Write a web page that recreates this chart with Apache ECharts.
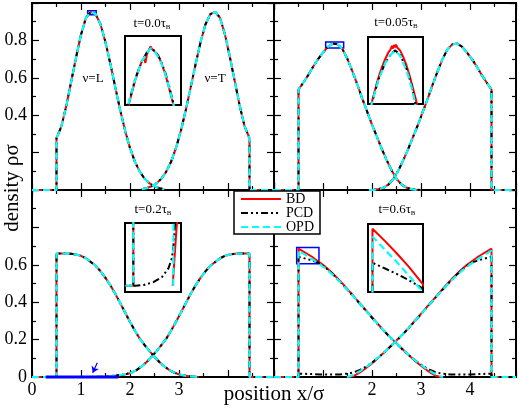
<!DOCTYPE html>
<html><head><meta charset="utf-8">
<script src="https://cdn.jsdelivr.net/npm/echarts/dist/echarts.min.js"></script>
<style>html,body{margin:0;padding:0;background:#fff}#c{width:519px;height:409px}</style>
</head><body><div id="c"></div>
<script>
// ---------------- data ----------------
const xTickLabelsBL = [0, 1, 2, 3];
const xTickLabelsBR = [2, 3, 4];
const yTickLabelsTop = [0.4, 0.6, 0.8];
const yTickLabelsBot = [0, 0.2, 0.4, 0.6];
const panelTimes = ['0.0', '0.05', '0.2', '0.6'];
const methods = ['BD', 'PCD', 'OPD'];

// t = 0.0
const xL_t0 = [0, 0.5, 0.5, 0.6, 0.7, 0.8, 0.9, 1.0, 1.1, 1.2, 1.3, 1.4, 1.5, 1.6, 1.7, 1.8, 1.9, 2.0, 2.1, 2.2, 2.3, 2.4, 2.5, 2.6, 2.7];
const rhoL_t0 = [0, 0, 0.277, 0.34, 0.45, 0.58, 0.71, 0.83, 0.92, 0.953, 0.94, 0.885, 0.79, 0.674, 0.55, 0.428, 0.318, 0.225, 0.152, 0.098, 0.06, 0.035, 0.02, 0.01, 0.004];
const xT_t0 = [2.24, 2.34, 2.44, 2.54, 2.64, 2.74, 2.84, 2.94, 3.04, 3.14, 3.24, 3.34, 3.44, 3.54, 3.64, 3.74, 3.84, 3.94, 4.04, 4.14, 4.24, 4.34, 4.44, 4.44, 4.94];
const rhoT_t0 = [0.004, 0.01, 0.02, 0.035, 0.06, 0.098, 0.152, 0.225, 0.318, 0.428, 0.55, 0.674, 0.79, 0.885, 0.94, 0.953, 0.92, 0.83, 0.71, 0.58, 0.45, 0.34, 0.277, 0, 0];

// t = 0.05
const xL_t005 = [0, 0.5, 0.5, 0.6, 0.7, 0.8, 0.9, 1.0, 1.1, 1.2, 1.3, 1.4, 1.5, 1.6, 1.7, 1.8, 1.9, 2.0, 2.1, 2.2, 2.3, 2.4, 2.5, 2.6, 2.7, 2.8, 2.9, 3.0];
const rhoL_t005 = [0, 0, 0.537, 0.575, 0.615, 0.66, 0.70, 0.735, 0.766, 0.783, 0.779, 0.752, 0.70, 0.635, 0.565, 0.49, 0.42, 0.35, 0.285, 0.22, 0.16, 0.105, 0.06, 0.03, 0.013, 0.005, 0.001, 0];
const xT_t005 = [1.94, 2.04, 2.14, 2.24, 2.34, 2.44, 2.54, 2.64, 2.74, 2.84, 2.94, 3.04, 3.14, 3.24, 3.34, 3.44, 3.54, 3.64, 3.74, 3.84, 3.94, 4.04, 4.14, 4.24, 4.34, 4.44, 4.44, 4.94];
const rhoT_t005 = [0, 0.001, 0.005, 0.013, 0.03, 0.06, 0.105, 0.16, 0.22, 0.285, 0.35, 0.42, 0.49, 0.565, 0.635, 0.70, 0.752, 0.779, 0.783, 0.766, 0.735, 0.70, 0.66, 0.615, 0.575, 0.537, 0, 0];

// t = 0.2
const xL_t02 = [0, 0.5, 0.5, 0.6, 0.7, 0.8, 0.9, 1.0, 1.1, 1.2, 1.3, 1.4, 1.5, 1.6, 1.7, 1.8, 1.9, 2.0, 2.1, 2.2, 2.3, 2.4, 2.5, 2.6, 2.7, 2.8, 2.9, 3.0, 3.1, 3.2, 3.3, 3.4];
const rhoL_t02 = [0, 0, 0.66, 0.66, 0.66, 0.659, 0.655, 0.648, 0.635, 0.615, 0.595, 0.565, 0.53, 0.49, 0.445, 0.395, 0.345, 0.295, 0.248, 0.205, 0.17, 0.138, 0.108, 0.08, 0.057, 0.038, 0.024, 0.014, 0.008, 0.004, 0.002, 0];
const xT_t02 = [1.54, 1.64, 1.74, 1.84, 1.94, 2.04, 2.14, 2.24, 2.34, 2.44, 2.54, 2.64, 2.74, 2.84, 2.94, 3.04, 3.14, 3.24, 3.34, 3.44, 3.54, 3.64, 3.74, 3.84, 3.94, 4.04, 4.14, 4.24, 4.34, 4.44, 4.44, 4.94];
const bdT_t02 = [0, 0.0045, 0.008, 0.011, 0.016, 0.025, 0.038, 0.057, 0.08, 0.108, 0.138, 0.17, 0.205, 0.248, 0.295, 0.345, 0.395, 0.445, 0.49, 0.53, 0.565, 0.595, 0.615, 0.635, 0.648, 0.655, 0.659, 0.66, 0.66, 0.66, 0, 0];
const xT_t02_opd = [1.555, 1.565, 1.64, 1.74, 1.84, 1.94, 2.04, 2.14, 2.24, 2.34, 2.44, 2.54, 2.64, 2.74, 2.84, 2.94, 3.04, 3.14, 3.24, 3.34, 3.44, 3.54, 3.64, 3.74, 3.84, 3.94, 4.04, 4.14, 4.24, 4.34, 4.44, 4.44, 4.94];
const opdT_t02 = [0, 0.006, 0.007, 0.009, 0.012, 0.017, 0.025, 0.038, 0.057, 0.08, 0.108, 0.138, 0.17, 0.205, 0.248, 0.295, 0.345, 0.395, 0.445, 0.49, 0.53, 0.565, 0.595, 0.615, 0.635, 0.648, 0.655, 0.659, 0.66, 0.66, 0.66, 0, 0];
const xT_t02_pcd = [0.5, 0.56, 0.78, 1.04, 1.26, 1.43, 1.52, 1.56, 1.6, 1.64, 1.74, 1.84, 1.94, 2.04, 2.14, 2.24, 2.34, 2.44, 2.54, 2.64, 2.74, 2.84, 2.94, 3.04, 3.14, 3.24, 3.34, 3.44, 3.54, 3.64, 3.74, 3.84, 3.94, 4.04, 4.14, 4.24, 4.34, 4.44, 4.44, 4.94];
const pcdT_t02 = [0, 0, 0.00006, 0.0003, 0.0007, 0.0014, 0.0022, 0.0032, 0.0048, 0.006, 0.009, 0.012, 0.017, 0.025, 0.038, 0.057, 0.08, 0.108, 0.138, 0.17, 0.205, 0.248, 0.295, 0.345, 0.395, 0.445, 0.49, 0.53, 0.565, 0.595, 0.615, 0.635, 0.648, 0.655, 0.659, 0.66, 0.66, 0.66, 0, 0];

// t = 0.6
const xL_t06 = [0, 0.5, 0.5, 0.6, 0.7, 0.8, 0.9, 1.0, 1.1, 1.2, 1.3, 1.4, 1.5, 1.6, 1.7, 1.8, 1.9, 2.0, 2.1, 2.2, 2.3, 2.4, 2.5, 2.6, 2.7, 2.8, 2.9, 3.0, 3.1, 3.2, 3.3, 3.4];
const bdL_t06 = [0, 0, 0.686, 0.671, 0.655, 0.638, 0.619, 0.6, 0.578, 0.553, 0.527, 0.499, 0.47, 0.44, 0.41, 0.38, 0.35, 0.32, 0.29, 0.26, 0.232, 0.206, 0.18, 0.155, 0.13, 0.105, 0.082, 0.06, 0.04, 0.022, 0.007, 0];
const xT_t06 = [1.54, 1.64, 1.74, 1.84, 1.94, 2.04, 2.14, 2.24, 2.34, 2.44, 2.54, 2.64, 2.74, 2.84, 2.94, 3.04, 3.14, 3.24, 3.34, 3.44, 3.54, 3.64, 3.74, 3.84, 3.94, 4.04, 4.14, 4.24, 4.34, 4.44, 4.44, 4.94];
const bdT_t06 = [0, 0.007, 0.022, 0.04, 0.06, 0.082, 0.105, 0.13, 0.155, 0.18, 0.206, 0.232, 0.26, 0.29, 0.32, 0.35, 0.38, 0.41, 0.44, 0.47, 0.499, 0.527, 0.553, 0.578, 0.6, 0.619, 0.638, 0.655, 0.671, 0.686, 0, 0];
const xL_t06_opd = [0, 0.5, 0.5, 0.6, 0.7, 0.8, 0.9, 1.0, 1.1, 1.2, 1.3, 1.4, 1.5, 1.6, 1.7, 1.8, 1.9, 2.0, 2.1, 2.2, 2.3, 2.4, 2.5, 2.6, 2.7, 2.8, 2.9, 3.0, 3.1, 3.2, 3.3, 3.4, 3.45];
const opdL_t06 = [0, 0, 0.676, 0.66, 0.644, 0.627, 0.609, 0.59, 0.569, 0.546, 0.521, 0.494, 0.466, 0.437, 0.408, 0.378, 0.348, 0.318, 0.289, 0.26, 0.232, 0.205, 0.179, 0.154, 0.13, 0.107, 0.085, 0.065, 0.046, 0.029, 0.014, 0.003, 0];
const xT_t06_opd = [1.49, 1.54, 1.64, 1.74, 1.84, 1.94, 2.04, 2.14, 2.24, 2.34, 2.44, 2.54, 2.64, 2.74, 2.84, 2.94, 3.04, 3.14, 3.24, 3.34, 3.44, 3.54, 3.64, 3.74, 3.84, 3.94, 4.04, 4.14, 4.24, 4.34, 4.44, 4.44, 4.94];
const opdT_t06 = [0, 0.003, 0.014, 0.029, 0.046, 0.065, 0.085, 0.107, 0.13, 0.154, 0.179, 0.205, 0.232, 0.26, 0.289, 0.318, 0.348, 0.378, 0.408, 0.437, 0.466, 0.494, 0.521, 0.546, 0.569, 0.59, 0.609, 0.627, 0.644, 0.66, 0.676, 0, 0];
const xL_t06_pcd = [0, 0.5, 0.5, 0.6, 0.7, 0.8, 0.9, 1.0, 1.1, 1.2, 1.3, 1.4, 1.5, 1.6, 1.7, 1.8, 1.9, 2.0, 2.1, 2.2, 2.3, 2.4, 2.5, 2.6, 2.7, 2.8, 2.9, 3.0, 3.1, 3.2, 3.3, 3.4, 3.6, 3.8, 4.0, 4.2, 4.44, 4.44, 4.94];
const pcdL_t06 = [0, 0, 0.643, 0.636, 0.629, 0.621, 0.612, 0.595, 0.574, 0.55, 0.523, 0.495, 0.466, 0.437, 0.407, 0.377, 0.347, 0.317, 0.288, 0.259, 0.231, 0.204, 0.178, 0.153, 0.129, 0.106, 0.085, 0.066, 0.05, 0.036, 0.026, 0.019, 0.014, 0.013, 0.014, 0.016, 0.018, 0, 0];
const xT_t06_pcd = [0.5, 0.5, 0.74, 0.94, 1.14, 1.34, 1.54, 1.64, 1.74, 1.84, 1.94, 2.04, 2.14, 2.24, 2.34, 2.44, 2.54, 2.64, 2.74, 2.84, 2.94, 3.04, 3.14, 3.24, 3.34, 3.44, 3.54, 3.64, 3.74, 3.84, 3.94, 4.04, 4.14, 4.24, 4.34, 4.44, 4.44, 4.94];
const pcdT_t06 = [0, 0.018, 0.016, 0.014, 0.013, 0.014, 0.019, 0.026, 0.036, 0.05, 0.066, 0.085, 0.106, 0.129, 0.153, 0.178, 0.204, 0.231, 0.259, 0.288, 0.317, 0.347, 0.377, 0.407, 0.437, 0.466, 0.495, 0.523, 0.55, 0.574, 0.595, 0.612, 0.621, 0.629, 0.636, 0.643, 0, 0];

// inset zoom windows [xmin, xmax] / [ymin, ymax]
const insX = [[1.137, 1.31], [1.055, 1.422], [0.28, 1.76], [0.463, 0.918]];
const insY = [[0.937, 0.958], [0.759, 0.791], [-0.0005, 0.005], [0.606, 0.692]];

// inset 1 (t=0) peak detail
const ins1X_bd = [1.14, 1.155, 1.168, 1.18, 1.19, 1.196, 1.2, 1.205, 1.21, 1.216, 1.222, 1.23, 1.24, 1.25, 1.262, 1.274, 1.286, 1.295];
const ins1Y_bd = [0.934, 0.9395, 0.9443, 0.948, 0.9505, 0.9512, 0.9498, 0.9525, 0.952, 0.9548, 0.9538, 0.9532, 0.952, 0.9497, 0.9462, 0.9418, 0.9372, 0.933];
const ins1X = [1.14, 1.147, 1.168, 1.189, 1.204, 1.216, 1.23, 1.245, 1.261, 1.274, 1.286, 1.292];
const ins1Y_opd = [0.934, 0.937, 0.9446, 0.9502, 0.9527, 0.9543, 0.9532, 0.9507, 0.9466, 0.9421, 0.9375, 0.935];
const ins1Y_pcd = [0.934, 0.937, 0.9448, 0.9503, 0.9529, 0.9544, 0.9534, 0.951, 0.947, 0.9425, 0.9378, 0.9352];
// inset 2 (t=0.05) peak detail
const ins2X_bd = [1.075, 1.09, 1.11, 1.13, 1.15, 1.17, 1.19, 1.205, 1.215, 1.222, 1.228, 1.235, 1.242, 1.25, 1.258, 1.27, 1.29, 1.31, 1.33, 1.35, 1.37, 1.385];
const ins2Y_bd = [0.7585, 0.7625, 0.768, 0.7728, 0.777, 0.7805, 0.7835, 0.785, 0.7868, 0.7855, 0.7872, 0.786, 0.7874, 0.786, 0.7865, 0.7845, 0.7815, 0.7778, 0.7732, 0.768, 0.7625, 0.758];
const ins2X = [1.075, 1.081, 1.125, 1.169, 1.213, 1.235, 1.268, 1.312, 1.345, 1.367, 1.372];
const ins2Y_opd = [0.757, 0.7595, 0.7705, 0.7784, 0.7831, 0.7844, 0.7823, 0.7752, 0.7673, 0.7602, 0.758];
const ins2Y_pcd = [0.757, 0.7595, 0.7706, 0.7786, 0.7833, 0.7846, 0.7827, 0.7758, 0.768, 0.761, 0.7588];

// arrow annotation (t=0.2 panel)
const arrowFrom = [1.333, 0.076];
const arrowTo = [1.239, 0.023];

// ---------------- chart ----------------
const FONT = '"Liberation Serif", "Times New Roman", serif';
const XMAX = 4.94;
const STY = {
  BD:  {color: '#ff0000', type: 'solid', width: 2},
  PCD: {color: '#000000', type: [7, 3, 2, 3, 2, 3], width: 2},
  OPD: {color: '#00ffff', type: [7, 4], width: 2.2}
};
const ZS = {BD: 3, PCD: 4, OPD: 5};
const pairs = (xs, ys) => xs.map((x, i) => [x, ys[i]]);
function ser(name, ax, xs, ys) {
  return {name, type: 'line', xAxisIndex: ax, yAxisIndex: ax, data: pairs(xs, ys),
    showSymbol: false, symbol: 'none', animation: false, silent: true, z: ZS[name],
    lineStyle: Object.assign({}, STY[name]), itemStyle: {color: STY[name].color}};
}
const tick = {color: '#000', width: 1.2};
const fmt = list => v => list.some(l => Math.abs(l - v) < 1e-6) ? String(Math.round(v * 10) / 10) : '';
function xAx(g, pos, labels) {
  return {type: 'value', gridIndex: g, position: pos, min: 0, max: XMAX, interval: 1,
    axisLine: {show: false, onZero: false}, splitLine: {show: false},
    axisTick: {show: true, inside: true, length: 7, lineStyle: tick},
    minorTick: {show: true, splitNumber: 2, length: 4, lineStyle: tick},
    axisLabel: {show: !!labels, margin: 4, color: '#000', fontFamily: FONT, fontSize: 18, formatter: fmt(labels || [])}};
}
function yAx(g, pos, labels) {
  return {type: 'value', gridIndex: g, position: pos, min: 0, max: 1, interval: 0.2,
    axisLine: {show: false, onZero: false}, splitLine: {show: false},
    axisTick: {show: true, inside: true, length: 7, lineStyle: tick},
    minorTick: {show: true, splitNumber: 2, length: 4, lineStyle: tick},
    axisLabel: {show: !!labels, margin: 5, color: '#000', fontFamily: FONT, fontSize: 18, formatter: fmt(labels || [])}};
}
function insAx(g, r) {
  return {type: 'value', gridIndex: g, min: r[0], max: r[1], show: false, axisLine: {onZero: false}, splitLine: {show: false}};
}
const frame = {show: true, borderColor: '#000', borderWidth: 2, backgroundColor: 'rgba(0,0,0,0)'};
const insFrame = {show: true, borderColor: '#000', borderWidth: 2, backgroundColor: '#fff', z: 1};

const grid = [
  Object.assign({left: 32, top: 3, width: 242, height: 187}, frame),
  Object.assign({left: 274, top: 3, width: 242, height: 187}, frame),
  Object.assign({left: 32, top: 190, width: 242, height: 187}, frame),
  Object.assign({left: 274, top: 190, width: 242, height: 187}, frame),
  Object.assign({left: 125, top: 36, width: 56, height: 69}, insFrame),
  Object.assign({left: 368, top: 37, width: 55, height: 67}, insFrame),
  Object.assign({left: 125, top: 223, width: 56, height: 69}, insFrame),
  Object.assign({left: 368, top: 224, width: 55, height: 68}, insFrame)
];
const xAxis = [
  xAx(0, 'bottom'), xAx(0, 'top'), xAx(1, 'bottom'), xAx(1, 'top'),
  xAx(2, 'bottom', xTickLabelsBL), xAx(2, 'top'), xAx(3, 'bottom', xTickLabelsBR), xAx(3, 'top'),
  insAx(4, insX[0]), insAx(5, insX[1]), insAx(6, insX[2]), insAx(7, insX[3])
];
const yAxis = [
  yAx(0, 'left', yTickLabelsTop), yAx(0, 'right'), yAx(1, 'left'), yAx(1, 'right'),
  yAx(2, 'left', yTickLabelsBot), yAx(2, 'right'), yAx(3, 'left'), yAx(3, 'right'),
  insAx(4, insY[0]), insAx(5, insY[1]), insAx(6, insY[2]), insAx(7, insY[3])
];

const series = [];
function addPanel(ax, sets) { sets.forEach(s => series.push(ser(s[0], ax, s[1], s[2]))); }
// main panels (axis index 0,2,4,6)
addPanel(0, [['BD', xL_t0, rhoL_t0], ['BD', xT_t0, rhoT_t0], ['PCD', xL_t0, rhoL_t0], ['PCD', xT_t0, rhoT_t0], ['OPD', xL_t0, rhoL_t0], ['OPD', xT_t0, rhoT_t0]]);
addPanel(2, [['BD', xL_t005, rhoL_t005], ['BD', xT_t005, rhoT_t005], ['PCD', xL_t005, rhoL_t005], ['PCD', xT_t005, rhoT_t005], ['OPD', xL_t005, rhoL_t005], ['OPD', xT_t005, rhoT_t005]]);
addPanel(4, [['BD', xL_t02, rhoL_t02], ['BD', xT_t02, bdT_t02], ['PCD', xL_t02, rhoL_t02], ['PCD', xT_t02_pcd, pcdT_t02], ['OPD', xL_t02, rhoL_t02], ['OPD', xT_t02_opd, opdT_t02]]);
addPanel(6, [['BD', xL_t06, bdL_t06], ['BD', xT_t06, bdT_t06], ['PCD', xL_t06_pcd, pcdL_t06], ['PCD', xT_t06_pcd, pcdT_t06], ['OPD', xL_t06_opd, opdL_t06], ['OPD', xT_t06_opd, opdT_t06]]);
// insets (axis index 8..11)
addPanel(8, [['BD', ins1X_bd, ins1Y_bd], ['PCD', ins1X, ins1Y_pcd], ['OPD', ins1X, ins1Y_opd]]);
addPanel(9, [['BD', ins2X_bd, ins2Y_bd], ['PCD', ins2X, ins2Y_pcd], ['OPD', ins2X, ins2Y_opd]]);
addPanel(10, [['BD', xL_t02, rhoL_t02], ['BD', xT_t02, bdT_t02], ['PCD', xL_t02, rhoL_t02], ['PCD', xT_t02_pcd, pcdT_t02], ['OPD', xL_t02, rhoL_t02], ['OPD', xT_t02_opd, opdT_t02]]);
addPanel(11, [['BD', xL_t06, bdL_t06], ['PCD', xL_t06_pcd, pcdL_t06], ['OPD', xL_t06_opd, opdL_t06]]);

// blue zoom-window markers
[0, 1, 3].forEach(k => {
  const ax = 2 * k;
  series.push({type: 'line', xAxisIndex: ax, yAxisIndex: ax, data: [], silent: true, animation: false, z: 8,
    markArea: {silent: true, label: {show: false},
      itemStyle: {color: 'rgba(0,0,0,0)', borderColor: '#0000ff', borderWidth: 1.5},
      data: [[{coord: [insX[k][0], insY[k][0]]}, {coord: [insX[k][1], insY[k][1]]}]]}});
});
// t=0.2: zoom window is a thin bar along rho = 0, plus arrow
series.push({type: 'line', xAxisIndex: 4, yAxisIndex: 4, silent: true, animation: false, z: 8, clip: false,
  data: [[insX[2][0], 0], [insX[2][1], 0]], showSymbol: false, symbol: 'none',
  lineStyle: {color: '#0000ff', width: 3, type: 'solid'},
  markLine: {silent: true, symbol: ['none', 'arrow'], symbolSize: 6, label: {show: false},
    lineStyle: {color: '#0000ff', width: 1.2, type: 'solid'},
    data: [[{coord: arrowFrom}, {coord: arrowTo}]]}});

const rich = {a: {fontFamily: FONT, fontSize: 13, color: '#000'}, b: {fontFamily: FONT, fontSize: 7, color: '#000', verticalAlign: 'bottom'}};
const titlePos = [[152, 24], [396, 23], [153, 210], [397, 210]];
const graphic = [];
panelTimes.forEach((t, i) => graphic.push({type: 'text', x: titlePos[i][0], y: titlePos[i][1], z: 50,
  style: {text: '{a|t=' + t + 'τ}{b|B}', rich, align: 'center', verticalAlign: 'middle'}}));
graphic.push({type: 'text', x: 93, y: 79, z: 50, style: {text: 'ν=L', font: '13px ' + FONT, fill: '#000', align: 'center', verticalAlign: 'middle'}});
graphic.push({type: 'text', x: 215, y: 79, z: 50, style: {text: 'ν=T', font: '13px ' + FONT, fill: '#000', align: 'center', verticalAlign: 'middle'}});
graphic.push({type: 'text', x: 12, y: 188, rotation: Math.PI / 2, z: 50, style: {text: 'density ρσ', font: '21px ' + FONT, fill: '#000', align: 'center', verticalAlign: 'middle'}});
graphic.push({type: 'text', x: 274, y: 394, z: 50, style: {text: 'position x/σ', font: '21px ' + FONT, fill: '#000', align: 'center', verticalAlign: 'middle'}});

const chart = echarts.init(document.getElementById('c'), null, {renderer: 'canvas'});
chart.setOption({
  animation: false,
  backgroundColor: '#fff',
  grid, xAxis, yAxis, series, graphic,
  legend: {data: methods, orient: 'vertical', left: 234, top: 191, itemWidth: 40, itemHeight: 14, itemGap: 0,
    padding: [1, 6, 0, 6], backgroundColor: '#fff', borderColor: '#000', borderWidth: 1.5, borderRadius: 0,
    selectedMode: false, z: 20, itemStyle: {opacity: 0, borderWidth: 0},
    textStyle: {fontFamily: FONT, fontSize: 14, lineHeight: 14, color: '#000'}}
});
</script></body></html>
